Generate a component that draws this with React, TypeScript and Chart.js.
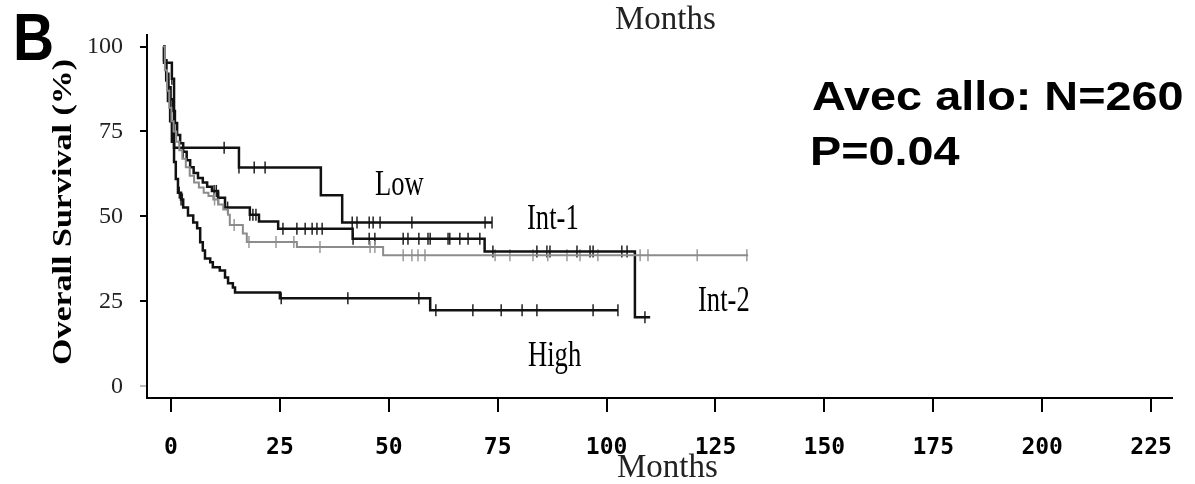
import React, { useEffect, useRef } from "react";
import { Chart, registerables } from "chart.js";

Chart.register(...registerables);

// ---- data (months, survival %) ----
const xTickValues = [0, 25, 50, 75, 100, 125, 150, 175, 200, 225];
const yTickValues = [0, 25, 50, 75, 100];

const lowTimes = [-1.8, -1.6, 0.2, 0.7, 15.6, 34.4, 39.3, 73.7];
const lowSurv = [100, 95.2, 90.5, 70.2, 64.4, 56.2, 48.2, 48.2];
const lowCensor = [0.2, 12.2, 15.6, 19.1, 21.6, 41.6, 42.7, 45.5, 46.4, 48, 55.3, 72.1, 73.7];

const int1Times = [-1.8, -1.5, -1.1, -0.6, -0.1, 0.4, 0.9, 1.4, 2.1, 2.8, 3.6, 4.4, 5.2, 6.2, 7.3, 8.3, 9.4, 10.8, 12.4, 18.1, 20.2, 24.6, 41.7, 72.0, 106.5, 110];
const int1Surv = [100, 96, 92, 88, 84.5, 81, 77.5, 74, 71.5, 69, 66.5, 64.5, 62.8, 61.3, 60, 58.7, 57.5, 55.5, 52.6, 50.5, 48.5, 46.4, 43.4, 39.7, 20.3, 20.3];
const int1Censor = [2.8, 9.9, 10.4, 10.9, 13, 18.1, 18.8, 19.5, 25.7, 28.9, 30.8, 32.4, 33.5, 34.7, 41.8, 45.5, 46.8, 53.3, 54.4, 56.9, 59, 59.5, 63.6, 64, 66.3, 68.2, 70.9, 73.9, 84, 86.3, 87, 93.2, 96.2, 96.9, 103.5, 104.7, 108.8];

const int2Times = [-1.8, -1.4, -0.9, -0.4, 0.1, 0.6, 1.2, 1.9, 2.6, 3.4, 4.3, 5.3, 6.4, 7.5, 8.6, 9.7, 10.8, 12.0, 13.1, 13.5, 16.5, 17.4, 28.9, 48.7, 132.5];
const int2Surv = [100, 93, 87, 82, 78, 75, 72, 69.5, 67, 64.5, 62, 60, 58.5, 57, 56, 55, 53.5, 52, 50.5, 47.5, 45, 42.5, 41, 38.6, 38.6];
const int2Censor = [10, 14.5, 17.9, 24.1, 28.2, 34.2, 45.7, 46.8, 53.3, 55.3, 56.7, 58.3, 74.4, 77.8, 83.1, 86.5, 90.9, 93.9, 98, 107.7, 109.5, 120.8, 132.2];

const highTimes = [-1.8, -1.6, -1.1, -0.7, -0.2, 0.2, 0.7, 1.1, 1.6, 2.3, 2.8, 3.9, 5.1, 6.0, 6.7, 7.3, 7.8, 9.0, 9.6, 11.2, 12.4, 13.1, 14.2, 14.7, 25.0, 59.5, 102.6];
const highSurv = [100, 96, 90, 84, 78, 72, 66, 61, 57, 55, 52.6, 50.3, 48.2, 46.5, 42.4, 40, 37.6, 36.5, 35, 34.1, 32, 30.3, 29.1, 27.6, 25.9, 22.4, 22.4];
const highCensor = [1.9, 2.3, 2.6, 25.3, 40.6, 56.9, 60.8, 69.3, 75.8, 80.6, 84, 96.9, 102.6];

function stepAt(times: number[], surv: number[], t: number) {
  let v = surv[0];
  for (let i = 0; i < times.length; i++) if (times[i] <= t) v = surv[i];
  return v;
}

function curve(times: number[], surv: number[], color: string, width: number) {
  return {
    type: "line" as const,
    data: times.map((x, i) => ({ x, y: surv[i] })),
    stepped: "before" as const,
    borderColor: color,
    borderWidth: width,
    pointRadius: 0,
    fill: false,
  };
}

function censor(times: number[], surv: number[], ct: number[], color: string) {
  return {
    type: "scatter" as const,
    data: ct.map((x) => ({ x, y: stepAt(times, surv, x) })),
    pointStyle: "line" as const,
    rotation: 90,
    pointRadius: 6,
    borderColor: color,
    backgroundColor: color,
    borderWidth: 1.5,
    showLine: false,
  };
}

function drawText(ctx: CanvasRenderingContext2D, text: string, x: number, y: number, font: string, sx: number, sy: number, color = "#000") {
  ctx.save();
  ctx.translate(x, y);
  ctx.scale(sx, sy);
  ctx.font = font;
  ctx.fillStyle = color;
  ctx.textAlign = "left";
  ctx.textBaseline = "alphabetic";
  ctx.fillText(text, 0, 0);
  ctx.restore();
}

const textPlugin = {
  id: "textPlugin",
  afterDraw(chart: any) {
    const ctx = chart.ctx as CanvasRenderingContext2D;
    const sans = '"Liberation Sans", Arial, sans-serif';
    const serif = '"Liberation Serif", "Times New Roman", serif';
    drawText(ctx, "B", 13, 60, `bold 67px ${sans}`, 0.85, 1);
    drawText(ctx, "Avec allo: N=260", 812, 110, `bold 40px ${sans}`, 1.17, 1);
    drawText(ctx, "P=0.04", 810, 165, `bold 40px ${sans}`, 1.17, 1);
    drawText(ctx, "Low", 375, 195, `35px ${serif}`, 0.76, 1);
    drawText(ctx, "Int-1", 527, 229, `35px ${serif}`, 0.76, 1);
    drawText(ctx, "Int-2", 698, 311, `35px ${serif}`, 0.76, 1);
    drawText(ctx, "High", 528, 366, `35px ${serif}`, 0.76, 1);
    drawText(ctx, "Months", 615, 29, `33px ${serif}`, 1.0, 1, "#222");
    drawText(ctx, "Months", 617, 477, `33px ${serif}`, 1.0, 1, "#222");
    ctx.save();
    ctx.translate(71, 212);
    ctx.rotate(-Math.PI / 2);
    ctx.scale(1.26, 1);
    ctx.font = `bold 27px ${serif}`;
    ctx.fillStyle = "#000";
    ctx.textAlign = "center";
    ctx.textBaseline = "alphabetic";
    ctx.fillText("Overall Survival (%)", 0, 0);
    ctx.restore();
  },
};

export default function App() {
  const ref = useRef<HTMLCanvasElement | null>(null);
  useEffect(() => {
    if (!ref.current) return;
    const chart = new Chart(ref.current, {
      type: "line",
      data: {
        datasets: [
          curve(int2Times, int2Surv, "#8c8c8c", 2),
          curve(lowTimes, lowSurv, "#111", 2.5),
          curve(int1Times, int1Surv, "#111", 2.5),
          curve(highTimes, highSurv, "#111", 2.5),
          censor(int2Times, int2Surv, int2Censor, "#9a9a9a"),
          censor(lowTimes, lowSurv, lowCensor, "#222"),
          censor(int1Times, int1Surv, int1Censor, "#222"),
          censor(highTimes, highSurv, highCensor, "#222"),
        ] as any,
      },
      options: {
        animation: false,
        responsive: false,
        maintainAspectRatio: false,
        layout: { padding: { left: 0, right: 23, top: 35, bottom: 0 } },
        plugins: { legend: { display: false }, tooltip: { enabled: false } },
        scales: {
          x: {
            type: "linear",
            min: -5.51,
            max: 229.8,
            afterBuildTicks: (s: any) => {
              s.ticks = xTickValues.map((v) => ({ value: v }));
            },
            afterFit: (s: any) => {
              s.height = 86;
            },
            grid: { drawOnChartArea: false, drawTicks: true, tickLength: 14, color: "#000", lineWidth: 2 },
            border: { display: true, color: "#000", width: 2 },
            ticks: {
              font: { family: '"DejaVu Sans Mono", monospace', weight: "bold", size: 23 },
              color: "#000",
              padding: 22,
              maxRotation: 0,
              autoSkip: false,
            },
          },
          y: {
            type: "linear",
            min: -3.45,
            max: 103.4,
            afterBuildTicks: (s: any) => {
              s.ticks = yTickValues.map((v) => ({ value: v }));
            },
            afterFit: (s: any) => {
              s.width = 147;
            },
            grid: {
              drawOnChartArea: false,
              drawTicks: true,
              tickLength: 7,
              lineWidth: 2,
              color: (c: any) => (c.tick && c.tick.value === 0 ? "#bbb" : "#000"),
            },
            border: { display: true, color: "#000", width: 2 },
            ticks: {
              font: { family: '"Liberation Serif", serif', size: 24 },
              color: "#222",
              padding: 17,
            },
          },
        },
      } as any,
      plugins: [textPlugin],
    });
    return () => chart.destroy();
  }, []);
  return (
    <div style={{ position: "absolute", left: 0, top: 0, width: 1195, height: 484, background: "#fff" }}>
      <canvas ref={ref} width={1195} height={484} style={{ display: "block", width: 1195, height: 484 }} />
    </div>
  );
}
